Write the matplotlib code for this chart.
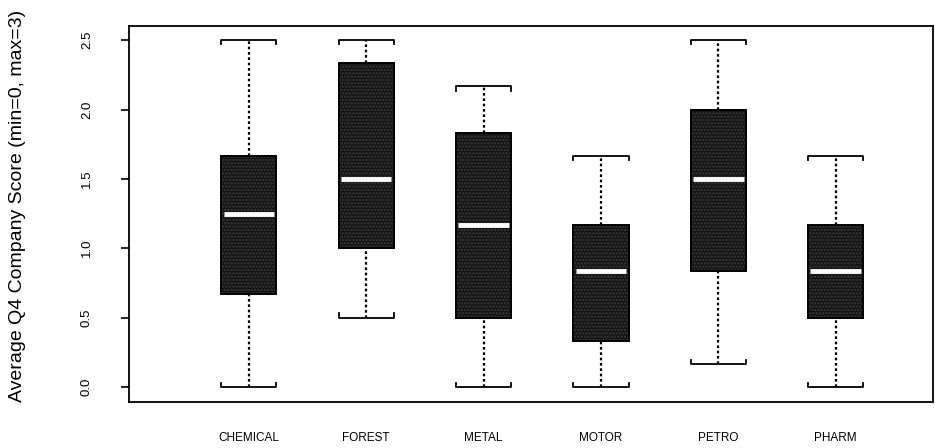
import numpy as np
import matplotlib
matplotlib.use("Agg")
import matplotlib.pyplot as plt
from matplotlib.patches import Rectangle

# five-number summaries per industry
industries = ["CHEMICAL", "FOREST", "METAL", "MOTOR", "PETRO", "PHARM"]
lo_whisker = [0.0, 0.5, 0.0, 0.0, 0.167, 0.0]
q1 = [0.667, 1.0, 0.5, 0.333, 0.833, 0.5]
medians = [1.25, 1.5, 1.167, 0.833, 1.5, 0.833]
q3 = [1.667, 2.333, 1.833, 1.167, 2.0, 1.167]
hi_whisker = [2.5, 2.5, 2.167, 1.667, 2.5, 1.667]

plt.rcParams['font.family'] = ['Liberation Sans', 'DejaVu Sans']
plt.rcParams['hatch.linewidth'] = 1.2

fig = plt.figure(figsize=(9.35, 4.48), dpi=100)
ax = fig.add_axes([0.138, 0.103, 0.860, 0.839])

w = 0.47      # box width
tick = 0.03   # bracket end height
for i, name in enumerate(industries):
    x = i + 1
    # whiskers
    ax.plot([x, x], [q3[i], hi_whisker[i]], color='black', lw=1.6, ls=(0, (1.2, 1.2)))
    ax.plot([x, x], [lo_whisker[i], q1[i]], color='black', lw=1.6, ls=(0, (1.2, 1.2)))
    # bracket caps
    ax.plot([x - w/2, x - w/2, x + w/2, x + w/2],
            [hi_whisker[i] - tick, hi_whisker[i], hi_whisker[i], hi_whisker[i] - tick],
            color='black', lw=1.3)
    ax.plot([x - w/2, x - w/2, x + w/2, x + w/2],
            [lo_whisker[i] + tick, lo_whisker[i], lo_whisker[i], lo_whisker[i] + tick],
            color='black', lw=1.3)
    # stippled box
    ax.add_patch(Rectangle((x - w/2, q1[i]), w, q3[i] - q1[i], facecolor='#121212',
                           edgecolor='#3c3c3c', hatch='.....', lw=0, zorder=3))
    ax.add_patch(Rectangle((x - w/2, q1[i]), w, q3[i] - q1[i], facecolor='none',
                           edgecolor='black', lw=1.4, zorder=4))
    # median
    ax.plot([x - w/2 + 0.02, x + w/2 - 0.02], [medians[i], medians[i]],
            color='white', lw=3.5, solid_capstyle='butt', zorder=5)

ax.set_xlim(-0.02, 6.83)
ax.set_ylim(-0.108, 2.603)
ax.set_xticks(range(1, 7))
ax.set_xticklabels(industries, fontsize=8.5)
ax.tick_params(axis='x', length=0, pad=22)
ax.set_yticks(np.arange(0, 2.6, 0.5))
ax.set_yticklabels(["0.0", "0.5", "1.0", "1.5", "2.0", "2.5"], rotation=90,
                   va='center', fontsize=9.5)
ax.tick_params(axis='y', length=6, width=1.2, pad=20)
for s in ax.spines.values():
    s.set_linewidth(1.3)
ax.set_ylabel("Average Q4 Company Score (min=0, max=3)", fontsize=14)
ax.yaxis.set_label_coords(-0.128, 0.522)

fig.savefig("out.png", dpi=100)
